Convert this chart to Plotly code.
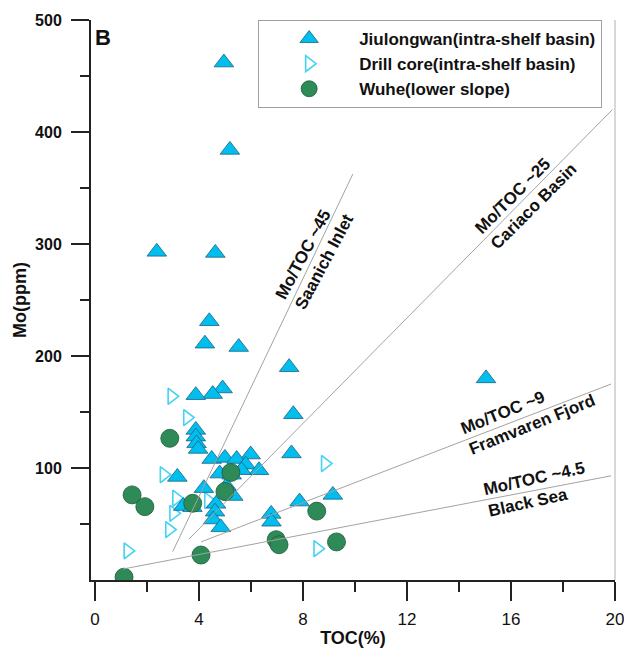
import plotly.graph_objects as go

# ---------------- data ----------------
jiulongwan_toc = [4.96, 5.19, 2.38, 4.63, 4.40, 4.23, 5.53, 7.47, 4.91, 4.53, 3.88, 7.63,
                  3.88, 3.88, 3.91, 3.97, 7.56, 5.99, 4.49, 5.00, 5.45, 5.80, 6.31, 5.64,
                  4.80, 5.26, 3.17, 4.19, 5.06, 5.32, 3.40, 3.75, 4.66, 4.62, 4.55, 4.84,
                  6.78, 6.79, 7.87, 9.15, 15.04]
jiulongwan_mo = [462, 384, 293, 292, 231, 211, 208, 190, 171, 166, 165, 148,
                 134, 128, 122, 117, 113, 112, 108, 109, 108, 103, 98, 98,
                 95, 94, 92, 82, 84, 75, 66, 65, 68, 61, 54, 47,
                 59, 52, 70, 76, 180]

drill_toc = [2.95, 3.55, 2.65, 3.13, 3.02, 2.86, 1.26, 8.85, 8.56, 4.36]
drill_mo = [164, 145, 94, 73, 59.5, 45, 26, 104, 28, 71]

wuhe_toc = [2.88, 1.43, 1.92, 3.76, 5.23, 5.00, 8.53, 6.97, 7.08, 9.29, 4.08, 1.12]
wuhe_mo = [126.5, 76, 65.5, 68.5, 96, 79, 61.5, 36, 31.5, 34, 22.3, 2.5]

# reference Mo/TOC trend lines (end points)
line_names = ["Saanich Inlet", "Cariaco Basin", "Framvaren Fjord", "Black Sea"]
line_toc = [[2.99, 9.92], [3.62, 19.9], [4.08, 19.85], [1.08, 19.85]]
line_mo = [[25.3, 362.5], [36.6, 420], [34, 175], [9.8, 93]]

ann_text = ["Mo/TOC ~45<br>Saanich Inlet", "Mo/TOC ~25<br>Cariaco Basin",
            "Mo/TOC ~9<br>Framvaren Fjord", "Mo/TOC ~4.5<br>Black Sea"]
ann_toc = [8.45, 16.57, 16.65, 16.97]
ann_mo = [288.8, 340.8, 147.4, 80.4]
ann_angle = [-62, -45, -22, -12.5]

x_ticks = [0, 4, 8, 12, 16, 20]
x_minor = [2, 6, 10, 14, 18]
y_ticks = [100, 200, 300, 400, 500]
y_minor = [50, 150, 250, 350, 450]

FONT = "Liberation Sans, Arial, sans-serif"

fig = go.Figure()

fig.add_trace(go.Scatter(
    x=drill_toc, y=drill_mo, mode="markers", name="Drill core(intra-shelf basin)",
    legendrank=2,
    marker=dict(symbol="triangle-right-open", size=14, color="#45d2f2",
                line=dict(width=1.6, color="#45d2f2"))))

fig.add_trace(go.Scatter(
    x=jiulongwan_toc, y=jiulongwan_mo, mode="markers", name="Jiulongwan(intra-shelf basin)",
    legendrank=1,
    marker=dict(symbol="triangle-up", size=17, color="#00bfef",
                line=dict(width=0.8, color="#1d5f80"))))

fig.add_trace(go.Scatter(
    x=wuhe_toc, y=wuhe_mo, mode="markers", name="Wuhe(lower slope)",
    legendrank=3,
    marker=dict(symbol="circle", size=18, color="#2e8b57",
                line=dict(width=0.8, color="#1e5a3a"))))

for nm, lx, ly in zip(line_names, line_toc, line_mo):
    fig.add_trace(go.Scatter(x=lx, y=ly, mode="lines", name=nm, showlegend=False,
                             line=dict(color="#a3a3a3", width=1), hoverinfo="skip"))

for t, ax_, ay_, ang in zip(ann_text, ann_toc, ann_mo, ann_angle):
    fig.add_annotation(x=ax_, y=ay_, xref="x", yref="y", text="<b>" + t + "</b>",
                       showarrow=False, textangle=ang, align="left",
                       xanchor="center", yanchor="middle",
                       font=dict(family=FONT, size=17, color="#111111"))

fig.add_annotation(x=0.004, y=0.995, xref="paper", yref="paper", text="<b>B</b>",
                   showarrow=False, xanchor="left", yanchor="top",
                   font=dict(family=FONT, size=22, color="#111111"))

fig.add_shape(type="line", xref="paper", yref="paper", x0=1, x1=1, y0=0, y1=1,
              line=dict(color="#b0b0b0", width=1))

# The page body has an 8px default margin, so the figure is sized/offset to match.
fig.update_layout(
    width=624, height=643,
    margin=dict(l=83, r=17, t=12, b=71, autoexpand=False),
    paper_bgcolor="white", plot_bgcolor="white",
    font=dict(family=FONT, color="#111111"),
    showlegend=True,
    legend=dict(x=0.319, y=1.0, xanchor="left", yanchor="top",
                bgcolor="white", bordercolor="#a0a0a0", borderwidth=1,
                itemwidth=90,
                font=dict(family=FONT, size=17, color="#111111", weight="bold")),
    xaxis=dict(range=[-0.15, 20], showgrid=False, zeroline=False, automargin=False,
               showline=True, linecolor="#222222", linewidth=2,
               tickvals=x_ticks, ticktext=[str(v) for v in x_ticks],
               ticks="outside", ticklen=19, tickwidth=2, tickcolor="#222222",
               ticklabelstandoff=4,
               tickfont=dict(family=FONT, size=17, color="#111111"),
               minor=dict(tickvals=x_minor, ticks="outside", ticklen=10,
                          tickwidth=2, tickcolor="#222222"),
               title=dict(text="<b>TOC(%)</b>", standoff=3,
                          font=dict(family=FONT, size=18, color="#111111"))),
    yaxis=dict(range=[0, 500], showgrid=False, zeroline=False, automargin=False,
               showline=True, linecolor="#222222", linewidth=2,
               tickvals=y_ticks, ticktext=["<b>%d</b>" % v for v in y_ticks],
               ticks="outside", ticklen=18, tickwidth=2, tickcolor="#222222",
               ticklabelstandoff=6,
               tickfont=dict(family=FONT, size=16, color="#111111"),
               minor=dict(tickvals=y_minor, ticks="outside", ticklen=9,
                          tickwidth=2, tickcolor="#222222"),
               title=dict(text="<b>Mo(ppm)</b>", standoff=4,
                          font=dict(family=FONT, size=18, color="#111111"))),
)

fig.write_html("out.html")
